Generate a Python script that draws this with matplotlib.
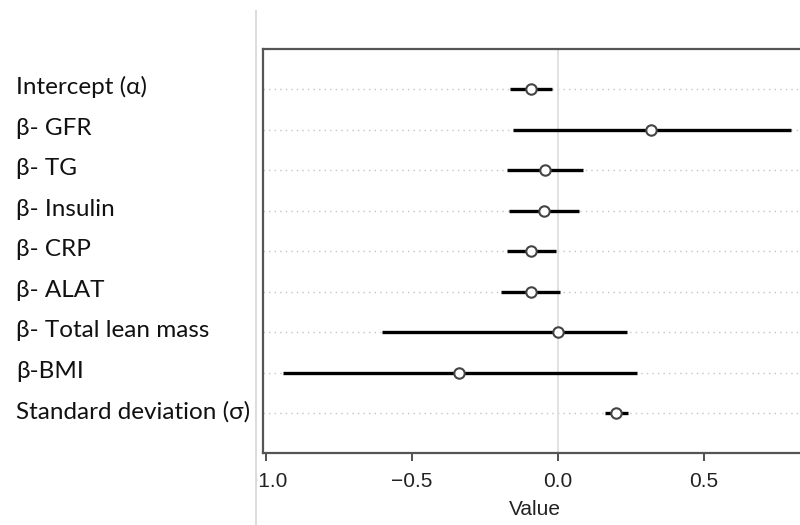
import matplotlib
matplotlib.use("Agg")
import matplotlib.pyplot as plt
from matplotlib.lines import Line2D
from matplotlib.patches import Rectangle

# posterior estimates (mean and interval), top to bottom
params = ["Intercept (α)", "β- GFR", "β- TG", "β- Insulin", "β- CRP",
          "β- ALAT", "β- Total lean mass", "β-BMI", "Standard deviation (σ)"]
est = [-0.093, 0.319, -0.043, -0.047, -0.093, -0.094, -0.001, -0.340, 0.198]
lo = [-0.165, -0.153, -0.174, -0.168, -0.176, -0.197, -0.605, -0.944, 0.161]
hi = [-0.022, 0.799, 0.087, 0.073, -0.008, 0.006, 0.237, 0.270, 0.241]
xticks = [-1.0, -0.5, 0.0, 0.5]

W, H = 800, 525
fig = plt.figure(figsize=(8, 5.25), dpi=100)
fig.patch.set_facecolor("white")

# axes runs a bit past the right edge of the picture
ax = fig.add_axes([262.5 / W, 1 - 453 / H, (808 - 262.5) / W, (453 - 49.3) / H])
rows = list(range(1, len(params) + 1))

for r in rows:
    ax.axhline(r, color="#c4c4c4", lw=1.0, ls=(0, (1, 3)), zorder=1)
ax.axvline(0, color="#dddddd", lw=1.2, zorder=1)

ax.hlines(rows, lo, hi, color="black", lw=2.4, zorder=2)
ax.plot(est, rows, "o", ms=7.5, mfc="white", mec="#444444", mew=1.5, zorder=3)

ax.set_xlim(-1.013, 0.857)
ax.set_ylim(9.98, 0.02)
ax.set_yticks([])
ax.set_xticks(xticks)
ax.set_xticklabels([f"{v:.1f}".replace("-", "\u2212") for v in xticks],
                   fontsize=15, family="Liberation Sans", color="#222222")
ax.tick_params(axis="x", direction="out", length=6, width=1.2, color="#333333", pad=8)
ax.set_xlabel("Value", fontsize=15, family="Liberation Sans", color="#222222", labelpad=6)
for s in ["top", "left", "bottom"]:
    ax.spines[s].set_color("#555555")
    ax.spines[s].set_linewidth(1.6)
ax.spines["right"].set_visible(False)

# white label panel on the left, hiding the minus of -1.0
fig.add_artist(Rectangle((0, 0), 256 / W, 1, transform=fig.transFigure,
                         facecolor="white", edgecolor="none", zorder=5))
fig.add_artist(Line2D([256 / W, 256 / W], [0, 1 - 11 / H], transform=fig.transFigure,
                      color="#dcdcdc", lw=1.4, zorder=6))

row_px = [89.3, 130, 170, 211, 251, 292, 332, 372.7, 413.3]
for name, yp in zip(params, row_px):
    fig.text(16 / W, 1 - (yp + 5) / H, name, fontsize=17.5, va="baseline", ha="left",
             family=["Lato", "DejaVu Sans"], color="#111111", zorder=7)

fig.savefig("out.png", dpi=100)
